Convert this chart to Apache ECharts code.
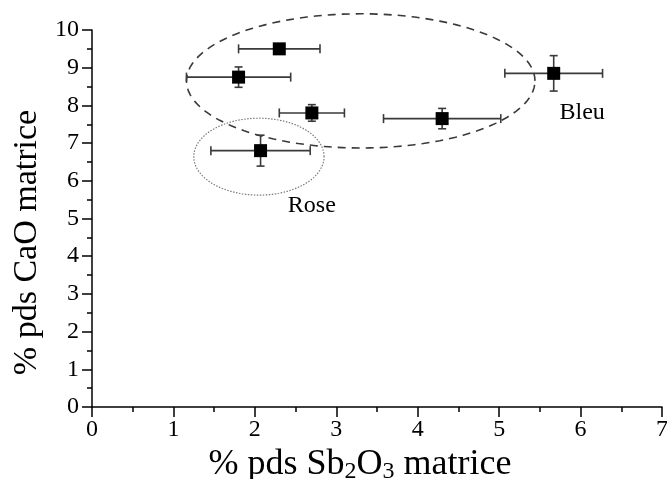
<!DOCTYPE html>
<html>
<head>
<meta charset="utf-8">
<script src="https://cdn.jsdelivr.net/npm/echarts@6/dist/echarts.min.js"></script>
<style>
  html, body { margin: 0; padding: 0; background: #fff; }
  #main { width: 667px; height: 479px; }
</style>
</head>
<body>
<div id="main"></div>
<script>
// valeurs
var sbVals = [2.3, 1.8, 2.7, 4.3, 5.67, 2.07];
var caoVals = [9.5, 8.75, 7.8, 7.65, 8.85, 6.8];
var sbErr = [0.5, 0.64, 0.4, 0.72, 0.6, 0.61];
var caoErr = [0, 0.27, 0.22, 0.27, 0.47, 0.41];

// groupes entourés : centre x, centre y, demi-axe x, demi-axe y
var groupBleu = [3.3, 8.65, 2.14, 1.78];
var groupRose = [2.05, 6.64, 0.8, 1.02];
var noteNames = ['Rose', 'Bleu'];
var noteX = [2.7, 6.02];
var noteY = [5.33, 7.8];

var xTicks = [0, 1, 2, 3, 4, 5, 6, 7];
var yTicks = [0, 1, 2, 3, 4, 5, 6, 7, 8, 9, 10];

var font = "'Liberation Serif', 'Times New Roman', serif";

var points = sbVals.map(function (v, i) { return [v, caoVals[i]]; });
var errData = sbVals.map(function (v, i) { return [v, caoVals[i], sbErr[i], caoErr[i]]; });

function renderErr(params, api) {
  var x = api.value(0), y = api.value(1), ex = api.value(2), ey = api.value(3);
  var style = { stroke: '#3a3a3a', lineWidth: 1.6 };
  var kids = [];
  var l = api.coord([x - ex, y]), r = api.coord([x + ex, y]);
  kids.push({ type: 'line', shape: { x1: l[0], y1: l[1], x2: r[0], y2: r[1] }, style: style });
  kids.push({ type: 'line', shape: { x1: l[0], y1: l[1] - 4.5, x2: l[0], y2: l[1] + 4.5 }, style: style });
  kids.push({ type: 'line', shape: { x1: r[0], y1: r[1] - 4.5, x2: r[0], y2: r[1] + 4.5 }, style: style });
  if (ey > 0) {
    var t = api.coord([x, y + ey]), b = api.coord([x, y - ey]);
    kids.push({ type: 'line', shape: { x1: t[0], y1: t[1], x2: b[0], y2: b[1] }, style: style });
    kids.push({ type: 'line', shape: { x1: t[0] - 4, y1: t[1], x2: t[0] + 4, y2: t[1] }, style: style });
    kids.push({ type: 'line', shape: { x1: b[0] - 4, y1: b[1], x2: b[0] + 4, y2: b[1] }, style: style });
  }
  return { type: 'group', children: kids };
}

function ellipseRenderer(dash, color, width) {
  return function (params, api) {
    var cx = api.value(0), cy = api.value(1), rx = api.value(2), ry = api.value(3);
    var pts = [];
    for (var k = 0; k < 120; k++) {
      var a = k / 120 * Math.PI * 2;
      pts.push(api.coord([cx + rx * Math.cos(a), cy + ry * Math.sin(a)]));
    }
    return {
      type: 'polygon',
      shape: { points: pts },
      style: { fill: 'none', stroke: color, lineWidth: width, lineDash: dash }
    };
  };
}

var chart = echarts.init(document.getElementById('main'));
chart.setOption({
  animation: false,
  grid: { left: 92, right: 5, top: 30, bottom: 72, outerBoundsMode: 'none' },
  xAxis: {
    type: 'value', min: 0, max: 7, interval: 1,
    name: '{a|% pds Sb}{s|2}{a|O}{s|3}{a| matrice}',
    nameLocation: 'middle', nameGap: 32,
    nameTextStyle: {
      padding: [0, 34, 0, 0],
      rich: {
        a: { fontFamily: font, fontSize: 36, color: '#000' },
        s: { fontFamily: font, fontSize: 24, color: '#000', padding: [14, 0, 0, 0] }
      }
    },
    axisLine: { lineStyle: { color: '#000', width: 1.5 } },
    axisTick: { inside: false, length: 10, lineStyle: { color: '#000', width: 1.5 } },
    minorTick: { show: true, splitNumber: 2, length: 5, lineStyle: { color: '#000', width: 1.5 } },
    axisLabel: {
      fontFamily: font, fontSize: 24, color: '#000', margin: 11,
      formatter: function (v) { return xTicks.indexOf(v) >= 0 ? String(v) : ''; }
    },
    splitLine: { show: false }
  },
  yAxis: {
    type: 'value', min: 0, max: 10, interval: 1,
    name: '% pds CaO matrice',
    nameLocation: 'middle', nameGap: 45,
    nameTextStyle: { fontFamily: font, fontSize: 34, color: '#000', padding: [0, 48, 0, 0] },
    axisLine: { show: true, lineStyle: { color: '#000', width: 1.5 } },
    axisTick: { show: true, inside: false, length: 10, lineStyle: { color: '#000', width: 1.5 } },
    minorTick: { show: true, splitNumber: 2, length: 5, lineStyle: { color: '#000', width: 1.5 } },
    axisLabel: {
      fontFamily: font, fontSize: 24, color: '#000', margin: 13,
      formatter: function (v) { return yTicks.indexOf(v) >= 0 ? String(v) : ''; }
    },
    splitLine: { show: false }
  },
  series: [
    {
      type: 'custom', renderItem: ellipseRenderer([8, 6], '#3a3a3a', 1.6),
      data: [groupBleu], silent: true, z: 1
    },
    {
      type: 'custom', renderItem: ellipseRenderer([1.5, 1.5], '#7a7a7a', 1.2),
      data: [groupRose], silent: true, z: 1
    },
    {
      type: 'custom', renderItem: renderErr, data: errData, z: 2
    },
    {
      type: 'scatter', symbol: 'rect', symbolSize: 13,
      itemStyle: { color: '#000', opacity: 1 }, data: points, z: 3
    },
    {
      type: 'scatter', symbolSize: 0, z: 4,
      itemStyle: { opacity: 1 },
      data: noteX.map(function (v, i) { return [v, noteY[i], noteNames[i]]; }),
      label: {
        show: true, position: 'inside',
        fontFamily: font, fontSize: 24, color: '#000',
        formatter: function (p) { return p.value[2]; }
      }
    }
  ]
});
</script>
</body>
</html>
